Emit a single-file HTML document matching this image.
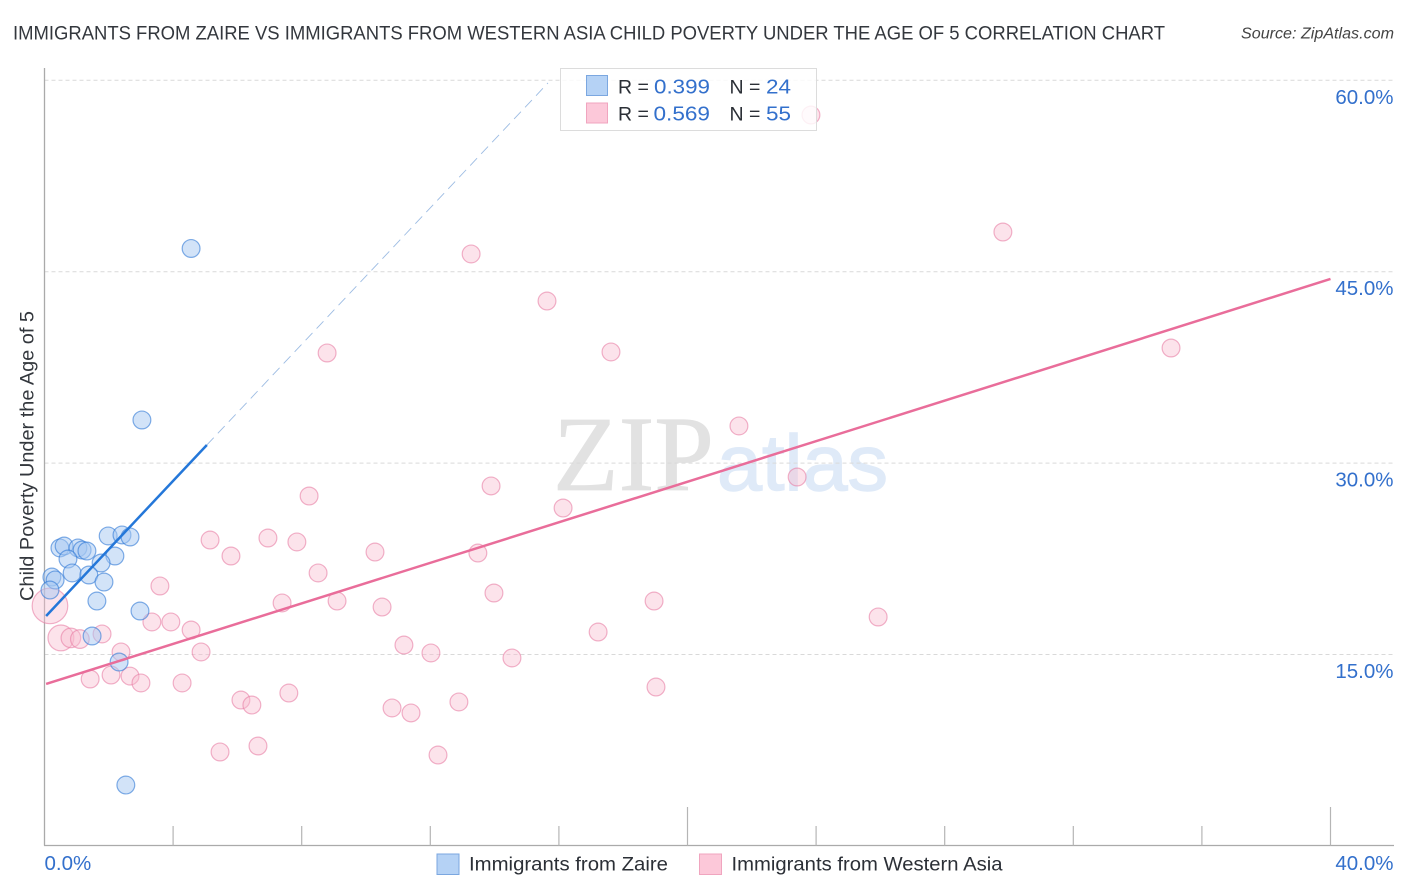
<!DOCTYPE html>
<html lang="en">
<head>
<meta charset="utf-8">
<title>Correlation Chart</title>
<style>
html,body{margin:0;padding:0;background:#fff;width:1406px;height:892px;overflow:hidden}
svg{display:block}
text{font-family:"Liberation Sans",sans-serif}
</style>
</head>
<body>
<svg id="chart" width="1406" height="892" viewBox="0 0 1406 892" xmlns="http://www.w3.org/2000/svg">
  <text x="13" y="39.5" font-size="19.2" fill="#33373d" textLength="1152" lengthAdjust="spacingAndGlyphs">IMMIGRANTS FROM ZAIRE VS IMMIGRANTS FROM WESTERN ASIA CHILD POVERTY UNDER THE AGE OF 5 CORRELATION CHART</text>
  <text x="1241" y="38.5" font-size="15.4" font-style="italic" fill="#444" textLength="153" lengthAdjust="spacingAndGlyphs">Source: ZipAtlas.com</text>

  <g id="watermark">
    <text x="553" y="490" font-size="107" fill="#e2e2e2" stroke="#e2e2e2" stroke-width="0.8" style="font-family:'Liberation Serif',serif" textLength="161" lengthAdjust="spacingAndGlyphs">ZIP</text>
    <text x="717" y="490" font-size="79" fill="#dfeaf8" stroke="#dfeaf8" stroke-width="1.4" textLength="171" lengthAdjust="spacingAndGlyphs">atlas</text>
  </g>

  <g id="grid"></g>
  <g id="axes"></g>
  <g id="points-pink"></g>
  <g id="points-blue"></g>
  <g id="trends"></g>
  <g id="tick-labels"></g>

  <text transform="translate(33.5,456) rotate(-90)" text-anchor="middle" font-size="19.3" fill="#33373d" textLength="290" lengthAdjust="spacingAndGlyphs">Child Poverty Under the Age of 5</text>

  <g>
    <rect x="560.5" y="68.5" width="256" height="62" fill="#fff" fill-opacity="0.82" stroke="#dcdcdc" stroke-width="1"></rect>
    <rect x="586.5" y="75.5" width="21" height="20" fill="#b5d2f5" stroke="#7ba7e0" stroke-width="1"></rect>
    <rect x="586.5" y="103" width="21" height="20" fill="#fcc8d9" stroke="#f0a5bf" stroke-width="1"></rect>
    <text x="618" y="93.5" font-size="19.5" fill="#2b2f36">R =</text>
    <text x="654" y="93.5" font-size="20.5" fill="#3370cc" textLength="56" lengthAdjust="spacingAndGlyphs">0.399</text>
    <text x="729.5" y="93.5" font-size="19.5" fill="#2b2f36">N =</text>
    <text x="766" y="93.5" font-size="20.5" fill="#3370cc" textLength="25" lengthAdjust="spacingAndGlyphs">24</text>
    <text x="618" y="120.5" font-size="19.5" fill="#2b2f36">R =</text>
    <text x="653.5" y="120.5" font-size="20.5" fill="#3370cc" textLength="56.5" lengthAdjust="spacingAndGlyphs">0.569</text>
    <text x="729.5" y="120.5" font-size="19.5" fill="#2b2f36">N =</text>
    <text x="766" y="120.5" font-size="20.5" fill="#3370cc" textLength="25" lengthAdjust="spacingAndGlyphs">55</text>
  </g>

  <g>
    <rect x="437" y="854" width="22" height="20.5" fill="#b5d2f5" stroke="#7ba7e0" stroke-width="1"></rect>
    <text x="469" y="870.5" font-size="19.5" fill="#2b2f36" textLength="199" lengthAdjust="spacingAndGlyphs">Immigrants from Zaire</text>
    <rect x="699.5" y="854" width="22" height="20.5" fill="#fcc8d9" stroke="#f0a5bf" stroke-width="1"></rect>
    <text x="731.5" y="870.5" font-size="19.5" fill="#2b2f36" textLength="271" lengthAdjust="spacingAndGlyphs">Immigrants from Western Asia</text>
  </g>
</svg>

<script>
// Chart data (percent values)
var yTickValues = [15, 30, 45, 60];
var yTickLabels = ["15.0%", "30.0%", "45.0%", "60.0%"];
var xTickValues = [0, 4, 8, 12, 16, 20, 24, 28, 32, 36, 40];
var xMajorTicks = [20, 40];
var xEndValues = [0, 40];
var xEndLabels = ["0.0%", "40.0%"];

var zaireX = [4.56, 3.03, 1.98, 2.41, 2.66, 0.48, 0.61, 1.04, 1.17, 1.32, 0.73, 2.19, 1.76, 0.86, 1.38, 0.23, 0.33, 0.17, 1.85, 1.63, 2.97, 1.48, 2.32, 2.53];
var zaireY = [46.82, 33.38, 24.29, 24.37, 24.21, 23.35, 23.50, 23.35, 23.19, 23.11, 22.48, 22.72, 22.17, 21.39, 21.23, 21.07, 20.84, 20.05, 20.68, 19.19, 18.41, 16.45, 14.41, 4.77];

var westernAsiaX = [23.84, 29.81, 13.27, 15.63, 35.04, 8.79, 17.62, 21.60, 23.41, 13.89, 8.23, 16.13, 5.15, 6.95, 7.85, 10.28, 5.80, 13.48, 8.51, 3.59, 13.98, 9.10, 18.96, 7.39, 10.50, 25.93, 3.34, 3.93, 4.56, 17.22, 1.79, 11.18, 4.87, 12.02, 2.38, 14.54, 1.42, 2.07, 2.66, 3.00, 4.28, 19.02, 7.60, 6.11, 6.45, 12.89, 10.81, 11.40, 6.64, 5.46, 12.24, 0.17, 0.51, 0.82, 1.10];
var westernAsiaY = [57.28, 48.11, 46.39, 42.70, 39.02, 38.63, 38.71, 32.91, 28.91, 28.21, 27.42, 26.48, 23.97, 24.13, 23.82, 23.03, 22.72, 22.95, 21.39, 20.37, 19.82, 19.19, 19.19, 19.04, 18.72, 17.94, 17.55, 17.55, 16.92, 16.76, 16.61, 15.74, 15.20, 15.12, 15.20, 14.73, 13.08, 13.39, 13.31, 12.77, 12.77, 12.45, 11.98, 11.43, 11.04, 11.28, 10.81, 10.42, 7.83, 7.36, 7.12, 18.81, 16.30, 16.30, 16.21];
// relative population weight of each pink point (1 = ordinary)
var westernAsiaWeight = [1, 1, 1, 1, 1, 1, 1, 1, 1, 1, 1, 1, 1, 1, 1, 1, 1, 1, 1, 1, 1, 1, 1, 1, 1, 1, 1, 1, 1, 1, 1, 1, 1, 1, 1, 1, 1, 1, 1, 1, 1, 1, 1, 1, 1, 1, 1, 1, 1, 1, 1, 2.0, 1.45, 1.1, 1.05];

var zaireTrendX = [0.05, 5.05];
var zaireTrendY = [18.02, 31.42];
var zaireDashX = [5.05, 15.66];
var zaireDashY = [31.42, 59.79];
var westernAsiaTrendX = [0.05, 40];
var westernAsiaTrendY = [12.69, 44.43];

// Axis functions
function xScale(v) { return 44.5 + v * 32.15; }
function yScale(v) { return 654.5 - (v - 15) * 12.76; }

var NS = "http://www.w3.org/2000/svg";
function make(tag, attrs, parent) {
  var el = document.createElementNS(NS, tag);
  for (var k in attrs) el.setAttribute(k, attrs[k]);
  parent.appendChild(el);
  return el;
}

var grid = document.getElementById("grid");
var axes = document.getElementById("axes");
var labels = document.getElementById("tick-labels");
var pinkG = document.getElementById("points-pink");
var blueG = document.getElementById("points-blue");
var trends = document.getElementById("trends");

yTickValues.forEach(function (v, i) {
  var line = make("line", {x1: 44.5, x2: 1394, y1: yScale(v), y2: yScale(v), stroke: "#d9d9d9", "stroke-width": 1, "stroke-dasharray": "4 3"}, grid);
  
  
  var t = make("text", {x: 1393.5, y: yScale(v) + 23.5, "text-anchor": "end", "font-size": 20.5, fill: "#3370cc"}, labels);
  t.textContent = yTickLabels[i];
  
  
});

var yAxis = make("line", {x1: 44.5, x2: 44.5, y1: 68, y2: 845.5, stroke: "#aaa", "stroke-width": 1.3}, axes);


var xAxis = make("line", {x1: 44, x2: 1394, y1: 845.5, y2: 845.5, stroke: "#aaa", "stroke-width": 1.3}, axes);



xTickValues.forEach(function (v) {
  if (v === 0) return;
  var top = xMajorTicks.indexOf(v) >= 0 ? 807 : 826;
  var tick = make("line", {x1: xScale(v), x2: xScale(v), y1: top, y2: 845.5, stroke: "#b5b5b5", "stroke-width": 1.2}, axes);
  
  
});

xEndValues.forEach(function (v, i) {
  var t = make("text", {x: i === 0 ? xScale(v) : 1393.5, y: 870, "text-anchor": i === 0 ? "start" : "end", "font-size": 20.5, fill: "#3370cc"}, labels);
  t.textContent = xEndLabels[i];
  
  
});

westernAsiaX.forEach(function (v, i) {
  var c = make("circle", {cx: xScale(v), cy: yScale(westernAsiaY[i]), r: 8.9 * westernAsiaWeight[i], fill: "#f9bcd0", "fill-opacity": 0.42, stroke: "#e77fa5", "stroke-opacity": 0.6, "stroke-width": 1.2}, pinkG);
  
  
});

zaireX.forEach(function (v, i) {
  var c = make("circle", {cx: xScale(v), cy: yScale(zaireY[i]), r: 8.9, fill: "#a6c8f2", "fill-opacity": 0.5, stroke: "#2f78d6", "stroke-opacity": 0.6, "stroke-width": 1.2}, blueG);
  
  
});

var dash = make("line", {x1: xScale(zaireDashX[0]), y1: yScale(zaireDashY[0]), x2: xScale(zaireDashX[1]), y2: yScale(zaireDashY[1]), stroke: "#9dbce3", "stroke-width": 0.9, "stroke-dasharray": "10 6"}, trends);


var blueLine = make("line", {x1: xScale(zaireTrendX[0]), y1: yScale(zaireTrendY[0]), x2: xScale(zaireTrendX[1]), y2: yScale(zaireTrendY[1]), stroke: "#2477d9", "stroke-width": 2.5}, trends);


var pinkLine = make("line", {x1: xScale(westernAsiaTrendX[0]), y1: yScale(westernAsiaTrendY[0]), x2: xScale(westernAsiaTrendX[1]), y2: yScale(westernAsiaTrendY[1]), stroke: "#e96d9a", "stroke-width": 2.5}, trends);


</script>
</body>
</html>
